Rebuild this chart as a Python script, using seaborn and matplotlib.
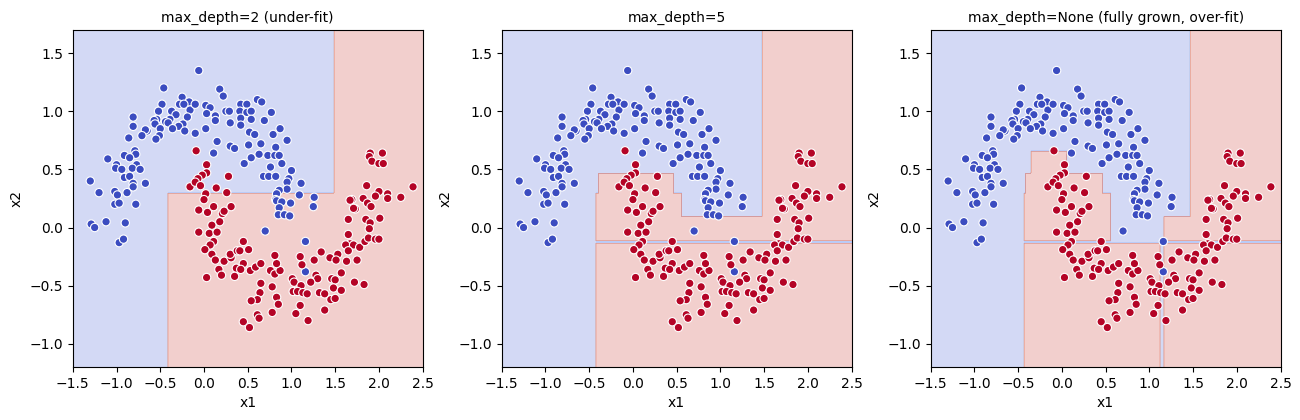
import numpy as np
import pandas as pd
import seaborn as sns
import matplotlib.pyplot as plt

# points (two moons)
blue_x = [-0.46, -0.25, -0.17, -0.28, -0.23, -0.48, -0.16, -0.52, -0.37, -0.32, -0.19, -0.54, -0.57,
          -0.39, -0.44, -0.41, -0.56, -0.24, -0.29, -0.81, -0.81, -0.50, -0.36, -0.22, -0.65, -0.67,
          -0.71, -0.51, -0.55, -0.86, -0.79, -0.78, -1.10, -0.91, -0.85, -1.00, -1.01, -0.94, -0.77,
          -0.82, -0.73, -0.91, -0.85, -0.81, -0.81, -0.67, -1.30, -1.20, -1.02, -0.99, -0.88,
          -1.02, -0.97, -0.78, -1.29, -1.25, -1.12, -0.90, -0.97, -0.92,
          -0.06, 0.18, 0.22, -0.10, 0.02, 0.07, 0.03, 0.13, 0.13, 0.25, 0.29, 0.42, 0.49, 0.61, 0.66,
          0.41, 0.49, 0.54, 0.77, 0.42, 0.54, 0.69, 0.30, 0.42, 0.02, -0.10, 0.52, 0.58, 0.87, 0.79,
          0.95, 0.15, 0.30, 0.35, 0.51, 0.65, 0.82, 0.11, 0.54, 0.63, 0.73, 0.81, 0.86, 0.46, 0.89,
          0.76, 1.00, 0.68, 0.74, 0.82, 0.97, 0.95, 1.11, 0.95, 0.86, 0.83, 1.09, 0.82,
          1.26, 0.83, 0.89, 0.99, 0.86, 0.85, 0.92, 0.98, 0.70, 1.16, 1.16, 1.25]
blue_y = [1.20, 1.12, 1.08, 1.06, 1.06, 1.06, 1.01, 1.00, 1.00, 0.97, 0.95, 0.93, 0.92,
          0.93, 0.91, 0.90, 0.89, 0.89, 0.87, 0.95, 0.87, 0.85, 0.85, 0.83, 0.83, 0.84,
          0.79, 0.79, 0.76, 0.77, 0.66, 0.63, 0.59, 0.62, 0.60, 0.54, 0.51, 0.50, 0.54,
          0.51, 0.50, 0.43, 0.44, 0.38, 0.35, 0.38, 0.40, 0.30, 0.31, 0.28, 0.30,
          0.20, 0.21, 0.20, 0.03, 0.00, 0.05, 0.04, -0.13, -0.10,
          1.35, 1.19, 1.13, 1.06, 1.05, 1.03, 0.98, 0.96, 0.92, 1.00, 1.00, 1.06, 1.06, 1.10, 1.08,
          1.00, 0.99, 1.00, 0.99, 0.94, 0.93, 0.92, 0.90, 0.88, 0.85, 0.81, 0.82, 0.80, 0.85, 0.80,
          0.75, 0.74, 0.70, 0.68, 0.71, 0.72, 0.69, 0.64, 0.60, 0.63, 0.62, 0.62, 0.62, 0.55, 0.55,
          0.52, 0.49, 0.44, 0.44, 0.44, 0.42, 0.39, 0.38, 0.33, 0.32, 0.29, 0.28, 0.24,
          0.26, 0.23, 0.22, 0.21, 0.17, 0.11, 0.11, 0.10, -0.03, -0.12, -0.38, 0.18]

red_x = [-0.16, -0.09, 0.03, 0.03, -0.02, -0.07, -0.10, -0.04, 0.28, 0.14, 0.26, 0.02, 0.00,
         1.90, 2.04, 1.89, 1.92, 2.00, 2.05, 1.86, 2.39, 2.00, 2.10, 1.96, 2.10, 2.25, 1.82, 1.69, 1.67,
         -0.06, 0.04, 0.11, 0.21, 0.23, 0.31, 0.18, 0.09, -0.06, 0.06, 0.15, 0.11, 0.07, 0.01, 0.09,
         0.13, 0.23, 0.31, 0.30, 0.38, 0.41, 0.45, 0.51, 0.45, 0.37, 0.42, 0.35, 0.17, 0.20, 0.03,
         0.53, 0.59, 0.65, 0.65, 0.64, 0.61, 0.54, 0.61, 0.63, 0.45, 0.52, 0.76, 0.81, 0.87, 0.83,
         0.81, 0.78, 0.83, 0.85, 0.78, 1.10, 1.12, 1.01, 1.03, 1.11, 1.02, 1.07, 1.13, 1.18, 1.10,
         1.05, 1.19,
         1.73, 1.71, 1.87, 1.91, 1.65, 1.85, 1.90, 2.01, 1.89, 1.65, 1.67, 1.62, 1.71, 1.65, 1.78,
         1.84, 1.88, 1.96, 2.00, 1.34, 1.26, 1.44, 1.53, 1.51, 1.63, 1.75, 1.28, 1.30, 1.22, 1.57,
         1.46, 1.50, 1.72, 1.83, 1.48, 1.57, 1.32, 1.38, 1.45, 1.50, 1.38]
red_y = [0.35, 0.66, 0.54, 0.47, 0.45, 0.42, 0.39, 0.36, 0.44, 0.34, 0.30, 0.29, 0.24,
         0.64, 0.64, 0.61, 0.57, 0.55, 0.55, 0.36, 0.35, 0.31, 0.29, 0.27, 0.25, 0.26, 0.25, 0.24, 0.235,
         0.15, 0.13, 0.18, 0.12, 0.14, 0.18, 0.05, 0.02, -0.04, -0.05, -0.04, -0.12, -0.15, -0.19, -0.23,
         -0.28, -0.29, -0.26, -0.23, -0.20, -0.20, -0.12, -0.19, -0.31, -0.35, -0.36, -0.42, -0.36, -0.41, -0.43,
         -0.37, -0.34, -0.31, -0.48, -0.56, -0.62, -0.63, -0.75, -0.78, -0.81, -0.86, -0.37, -0.40, -0.37, -0.31,
         -0.24, -0.51, -0.60, -0.66, -0.73, -0.25, -0.32, -0.44, -0.47, -0.50, -0.55, -0.55, -0.56, -0.57, -0.67,
         -0.74, -0.80,
         0.16, 0.165, 0.21, 0.18, 0.07, 0.07, 0.04, 0.08, -0.01, -0.06, -0.14, -0.15, -0.15, -0.20, -0.17,
         -0.12, -0.09, -0.10, -0.10, -0.21, -0.28, -0.26, -0.23, -0.28, -0.29, -0.28, -0.41, -0.44, -0.47, -0.39,
         -0.44, -0.45, -0.47, -0.49, -0.52, -0.54, -0.56, -0.57, -0.62, -0.61, -0.71]

titles = ['max_depth=2 (under-fit)', 'max_depth=5', 'max_depth=None (fully grown, over-fit)']

# tree leaves: (x_min, x_max, y_min, y_max, class), painted in order on class 0
leaves_depth2 = [(-0.41, 1.49, -2, 0.295, 1),
                 (1.49, 3, -2, 3, 1)]
leaves_depth5 = [(1.473, 3, -2, 3, 1),
                 (-0.42, 1.473, -2, 0.091, 1),
                 (-0.42, 0.557, 0.091, 0.292, 1),
                 (-0.398, 0.469, 0.292, 0.464, 1),
                 (-0.42, 3, -0.13, -0.115, 0)]
leaves_full = [(1.47, 3, -2, 3, 1),
               (-0.432, 1.127, -2, -0.125, 1),
               (1.162, 3, -2, 0.091, 1),
               (-0.432, 0.557, -0.125, 0.295, 1),
               (-0.413, 0.462, 0.295, 0.467, 1),
               (-0.356, 0.051, 0.467, 0.655, 1),
               (-0.432, 3, -0.13, -0.115, 0),
               (1.127, 1.162, -2, -0.125, 0)]
all_leaves = [leaves_depth2, leaves_depth5, leaves_full]

df = pd.DataFrame({
    'x1': blue_x + red_x,
    'x2': blue_y + red_y,
    'y': [0] * len(blue_x) + [1] * len(red_x),
})


def predict(leaves, xx, yy):
    z = np.zeros_like(xx)
    for x0, x1, y0, y1, lab in leaves:
        z[(xx >= x0) & (xx < x1) & (yy >= y0) & (yy < y1)] = lab
    return z


xx, yy = np.meshgrid(np.arange(-1.5, 2.51, 0.01), np.arange(-1.2, 1.71, 0.01))
cmap = plt.cm.coolwarm
palette = {0: cmap(0.0), 1: cmap(1.0)}

fig, axes = plt.subplots(1, 3, figsize=(13, 4.2), dpi=100)
plt.subplots_adjust(left=0.056, right=0.985, bottom=0.126, top=0.929, wspace=0.226)

for ax, leaves, title in zip(axes, all_leaves, titles):
    Z = predict(leaves, xx, yy)
    ax.contourf(xx, yy, Z, alpha=0.25, cmap='coolwarm')
    sns.scatterplot(data=df, x='x1', y='x2', hue='y', palette=palette, s=36,
                    edgecolor='white', linewidth=0.8, legend=False, ax=ax)
    ax.set_xlim(-1.5, 2.5)
    ax.set_ylim(-1.2, 1.7)
    ax.set_title(title, fontsize=10)
    ax.set_xlabel('x1')
    ax.set_ylabel('x2')

plt.savefig('out.png')
